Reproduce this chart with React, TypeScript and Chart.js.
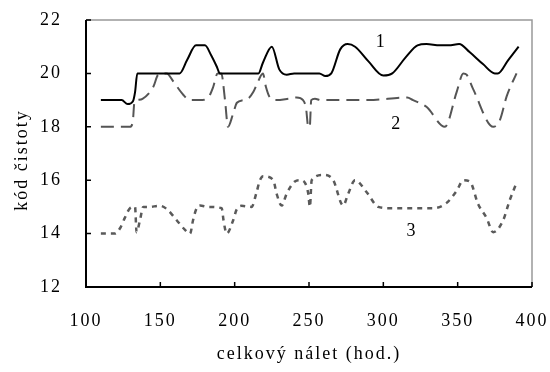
import React, { useEffect, useRef } from "react";
import { Chart, registerables } from "chart.js";

Chart.register(...registerables);

const X_TICKS = [100, 150, 200, 250, 300, 350, 400];
const Y_TICKS = [12, 14, 16, 18, 20, 22];

const s1X = [110, 124, 128, 131.5, 133, 134.5, 140, 163, 168, 174, 180, 184, 188, 190, 216, 219, 225, 230, 235, 240, 257, 261, 265, 271, 276, 281, 290, 300, 306, 315, 323, 329, 338, 344, 351, 358, 367, 375, 377, 384, 391];
const s1Y = [19, 19, 18.85, 18.95, 19.3, 20, 20, 20, 20.5, 21.05, 21.05, 20.7, 20.25, 20, 20, 20.4, 21.0, 20.15, 19.95, 20, 20, 19.9, 20, 20.9, 21.1, 21, 20.45, 19.92, 20, 20.6, 21.05, 21.1, 21.05, 21.05, 21.1, 20.8, 20.35, 20, 20, 20.5, 21.0];

const s2X = [110, 129.6, 131.5, 132.5, 134, 138, 145.3, 148.6, 154.3, 158.7, 165.4, 170, 176.7, 182.2, 185.6, 188.5, 191, 193.5, 195.5, 199, 201.5, 206, 209, 212.5, 215, 219, 221, 223.7, 228, 236, 241.7, 246, 248, 249.5, 250.5, 251.5, 254, 258, 266, 290, 316, 320, 329, 341.4, 349.3, 353.8, 356, 360.5, 374, 378.4, 383, 389.6];
const s2Y = [18, 18, 18.2, 18.9, 19, 19.05, 19.5, 19.95, 20, 19.7, 19.2, 19, 19, 19.1, 19.5, 20, 20, 19, 18, 18.5, 18.9, 19, 19.05, 19.3, 19.6, 20, 19.5, 19.1, 19, 19.05, 19.1, 19, 18.7, 18, 18, 19, 19.05, 19, 19, 19, 19.1, 19, 18.75, 18, 19.3, 20, 19.95, 19.4, 18, 18.25, 19.15, 20];

const s3X = [110, 119.5, 122.9, 126.2, 129.6, 133, 134, 136.3, 138.5, 141.9, 149.8, 154.3, 161, 166.6, 170, 172, 174.4, 176.7, 182.2, 191.3, 192.5, 194.6, 199, 201.3, 204.7, 211.4, 214.5, 217, 219.2, 226, 228.2, 231.6, 235, 240.5, 243.9, 247.3, 249.5, 250.6, 251.8, 259.6, 266.3, 273, 276.4, 281, 288.8, 296.6, 304.4, 333.6, 342.6, 349.3, 353.8, 358.2, 363.8, 369.5, 373.9, 380.6, 385, 389.6];
const s3Y = [14, 14, 14.2, 14.6, 14.95, 15, 14.05, 14.5, 15, 15, 15.04, 14.92, 14.5, 14.14, 14, 14.5, 14.95, 15.05, 15, 14.95, 14.5, 14, 14.5, 14.9, 15.04, 15, 15.5, 16, 16.15, 16, 15.5, 15.05, 15.5, 15.95, 16, 15.9, 15.5, 15, 16, 16.2, 16, 15.05, 15.5, 16, 15.55, 15, 14.95, 14.95, 15.15, 15.6, 16, 15.95, 15.1, 14.58, 14.05, 14.5, 15.25, 15.9];

const LABEL_TEXT = ["1", "2", "3"];
const LABEL_X = [298, 308.3, 318.6];
const LABEL_Y = [21.15, 18.08, 14.08];

const X_TITLE = "celkový nálet (hod.)";
const Y_TITLE = "kód čistoty";

const FONT = "'Liberation Serif', 'Times New Roman', serif";

function pts(xs: number[], ys: number[]) {
  return xs.map((x, i) => ({ x, y: ys[i] }));
}

export default function App() {
  const ref = useRef<HTMLCanvasElement | null>(null);
  useEffect(() => {
    if (!ref.current) return;
    const frame = {
      id: "frame",
      beforeDraw(chart: any) {
        chart.ctx.letterSpacing = "2px";
      },
      afterDraw(chart: any) {
        const ctx = chart.ctx;
        const a = chart.chartArea;
        const xs = chart.scales.x;
        const ys = chart.scales.y;
        ctx.save();
        ctx.setLineDash([]);
        ctx.strokeStyle = "#999999";
        ctx.lineWidth = 1.5;
        ctx.beginPath();
        ctx.moveTo(a.left, a.top);
        ctx.lineTo(a.right, a.top);
        ctx.lineTo(a.right, a.bottom);
        ctx.stroke();
        ctx.strokeStyle = "#000000";
        ctx.lineWidth = 2;
        ctx.beginPath();
        ctx.moveTo(a.left, a.top);
        ctx.lineTo(a.left, a.bottom);
        ctx.lineTo(a.right, a.bottom);
        ctx.stroke();
        ctx.lineWidth = 1.5;
        ctx.beginPath();
        X_TICKS.forEach((v) => {
          const px = xs.getPixelForValue(v);
          ctx.moveTo(px, a.bottom);
          ctx.lineTo(px, a.bottom - 5);
        });
        Y_TICKS.forEach((v) => {
          const py = ys.getPixelForValue(v);
          ctx.moveTo(a.left, py);
          ctx.lineTo(a.left + 5, py);
        });
        ctx.stroke();
        ctx.fillStyle = "#000";
        ctx.font = "18px " + FONT;
        ctx.letterSpacing = "0px";
        ctx.textAlign = "center";
        ctx.textBaseline = "middle";
        LABEL_TEXT.forEach((t, i) => {
          ctx.fillText(t, xs.getPixelForValue(LABEL_X[i]), ys.getPixelForValue(LABEL_Y[i]));
        });
        ctx.letterSpacing = "2px";
        ctx.translate(22, 160);
        ctx.rotate(-Math.PI / 2);
        ctx.fillText(Y_TITLE, 0, 0);
        ctx.restore();
      },
    };
    const chart = new Chart(ref.current, {
      type: "line",
      data: {
        datasets: [
          {
            data: pts(s1X, s1Y),
            borderColor: "#000000",
            borderWidth: 2,
            pointRadius: 0,
            cubicInterpolationMode: "monotone",
          },
          {
            data: pts(s2X, s2Y),
            borderColor: "#555555",
            borderWidth: 2,
            borderDash: [13, 7],
            pointRadius: 0,
            cubicInterpolationMode: "monotone",
          },
          {
            data: pts(s3X, s3Y),
            borderColor: "#5a5a5a",
            borderWidth: 2.5,
            borderDash: [5, 5],
            pointRadius: 0,
            cubicInterpolationMode: "monotone",
          },
        ],
      },
      options: {
        animation: false,
        responsive: false,
        maintainAspectRatio: false,
        layout: { padding: { left: 0, top: 20, right: 18, bottom: 0 } },
        plugins: { legend: { display: false }, tooltip: { enabled: false } },
        scales: {
          x: {
            type: "linear",
            min: 100,
            max: 400,
            grid: { display: false },
            border: { display: false },
            afterBuildTicks: (s: any) => {
              s.ticks = X_TICKS.map((v) => ({ value: v }));
            },
            ticks: {
              color: "#000",
              padding: 15,
              maxRotation: 0,
              autoSkip: false,
              font: { family: FONT, size: 18 },
            },
            title: {
              display: true,
              text: X_TITLE,
              color: "#000",
              font: { family: FONT, size: 18 },
              padding: { top: 0, bottom: 7 },
            },
            afterFit: (s: any) => {
              s.height = 85;
              s.paddingLeft = 0;
              s.paddingRight = 0;
            },
          },
          y: {
            type: "linear",
            min: 12,
            max: 22,
            grid: { display: false },
            border: { display: false },
            afterBuildTicks: (s: any) => {
              s.ticks = Y_TICKS.map((v) => ({ value: v }));
            },
            ticks: {
              color: "#000",
              padding: 16,
              font: { family: FONT, size: 18 },
            },
            afterFit: (s: any) => {
              s.width = 86;
              s.paddingTop = 0;
              s.paddingBottom = 0;
            },
          },
        },
      },
      plugins: [frame],
    } as any);
    return () => chart.destroy();
  }, []);
  return (
    <div style={{ position: "fixed", left: 0, top: 0, width: 550, height: 372, background: "#fff" }}>
      <canvas ref={ref} width={550} height={372} style={{ width: 550, height: 372 }} />
    </div>
  );
}
